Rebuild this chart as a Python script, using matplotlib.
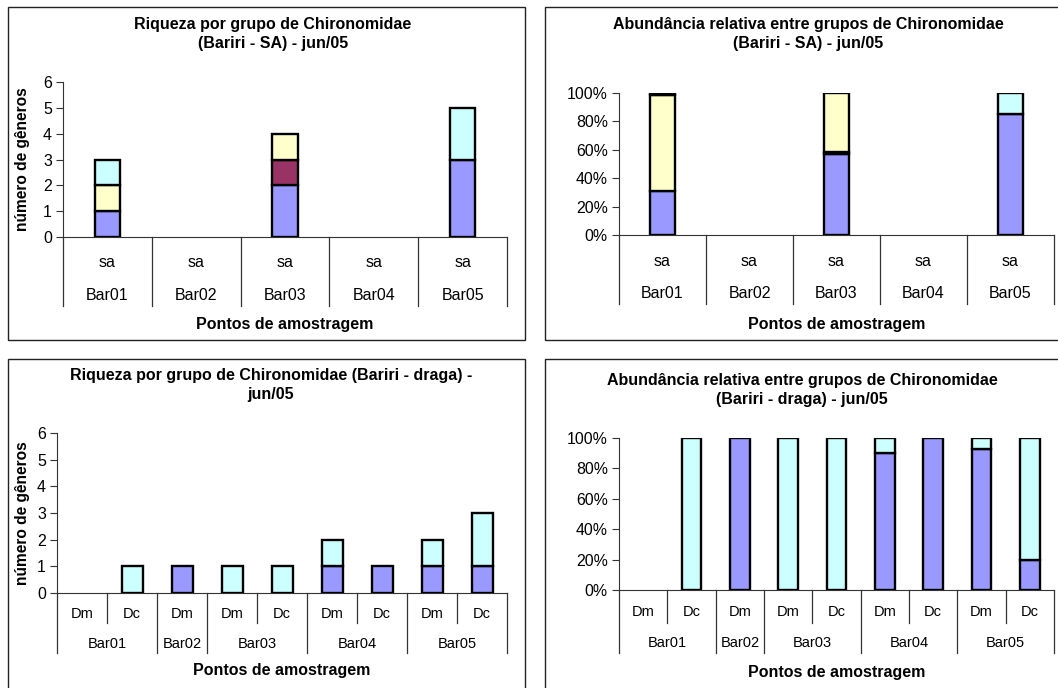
import matplotlib
matplotlib.use("Agg")
import matplotlib.pyplot as plt
import matplotlib.patches as mpatches
from matplotlib.ticker import PercentFormatter

plt.rcParams['font.family'] = ['Liberation Sans', 'DejaVu Sans']

# colours of the four Chironomidae groups (bottom to top of the stack)
group_colors = ['#9999FF', '#993366', '#FFFFCC', '#CCFFFF']

# --- SA samples (one per point) ---
sa_points = ['Bar01', 'Bar02', 'Bar03', 'Bar04', 'Bar05']
sa_sub = ['sa', 'sa', 'sa', 'sa', 'sa']
rich_sa_blue = [1, 0, 2, 0, 3]
rich_sa_maroon = [0, 0, 1, 0, 0]
rich_sa_yellow = [1, 0, 1, 0, 0]
rich_sa_cyan = [1, 0, 0, 0, 2]
abund_sa_blue = [31, 0, 57, 0, 85]
abund_sa_maroon = [0, 0, 1.5, 0, 0]
abund_sa_yellow = [67.5, 0, 41.5, 0, 0]
abund_sa_cyan = [1.5, 0, 0, 0, 15]

# --- dredge samples ---
dr_points = ['Bar01', 'Bar01', 'Bar02', 'Bar03', 'Bar03', 'Bar04', 'Bar04', 'Bar05', 'Bar05']
dr_sub = ['Dm', 'Dc', 'Dm', 'Dm', 'Dc', 'Dm', 'Dc', 'Dm', 'Dc']
rich_dr_blue = [0, 0, 1, 0, 0, 1, 1, 1, 1]
rich_dr_cyan = [0, 1, 0, 1, 1, 1, 0, 1, 2]
abund_dr_blue = [0, 0, 100, 0, 0, 90, 100, 93, 20]
abund_dr_cyan = [0, 100, 0, 100, 100, 10, 0, 7, 80]

W, H = 1058, 688
fig = plt.figure(figsize=(W / 100, H / 100), dpi=100)


def px_axes(x0, y0, x1, y1):
    return fig.add_axes([x0 / W, 1 - y1 / H, (x1 - x0) / W, (y1 - y0) / H])


def frame(x0, y0, x1, y1):
    fig.patches.append(mpatches.Rectangle((x0 / W, 1 - y1 / H), (x1 - x0) / W, (y1 - y0) / H,
                                          transform=fig.transFigure, fill=False,
                                          edgecolor='#222222', linewidth=1.0))


def panel(box, series, colors, sub, points, width, pct, title, title_xy, rows, fs_cat, fs_tick, ylabel=None, ylab_x=None):
    x0, y0, x1, y1 = box
    ax = px_axes(x0, y0, x1, y1)
    n = len(sub)
    bottom = [0] * n
    for vals, c in zip(series, colors):
        idx = [i for i in range(n) if vals[i] > 0]
        ax.bar(idx, [vals[i] for i in idx], width=width, bottom=[bottom[i] for i in idx],
               color=c, edgecolor='black', linewidth=1.7, zorder=3)
        bottom = [b + v for b, v in zip(bottom, vals)]
    ax.set_xlim(-0.5, n - 0.5)
    if pct:
        ax.set_ylim(0, 100)
        ax.set_yticks([0, 20, 40, 60, 80, 100])
        ax.yaxis.set_major_formatter(PercentFormatter(decimals=0))
    else:
        ax.set_ylim(0, 6)
        ax.set_yticks(range(7))
    ax.set_xticks([])
    for s in ['top', 'right']:
        ax.spines[s].set_visible(False)
    ax.spines['left'].set_color('#333333')
    ax.spines['bottom'].set_color('#333333')
    ax.tick_params(axis='y', direction='out', length=5, labelsize=fs_tick, color='#333333', pad=3)

    hpx = y1 - y0
    def fy(ypx):
        return (y1 - ypx) / hpx
    tr = ax.get_xaxis_transform()
    sub_y, grp_y, sub_end, grp_end, xl_y = rows
    # sub-category labels and their separators
    for i, s in enumerate(sub):
        ax.text(i, fy(sub_y), s, transform=tr, ha='center', va='center', fontsize=fs_cat)
    for k in range(n + 1):
        is_group = k == 0 or k == n or points[k] != points[k - 1]
        yend = grp_end if is_group else sub_end
        ax.plot([k - 0.5, k - 0.5], [0, fy(yend)], transform=tr, color='#333333',
                linewidth=0.9, clip_on=False)
    # group labels
    start = 0
    for k in range(1, n + 1):
        if k == n or points[k] != points[start]:
            ax.text((start + k - 1) / 2, fy(grp_y), points[start], transform=tr,
                    ha='center', va='center', fontsize=fs_cat)
            start = k
    ax.text((n - 1) / 2, fy(xl_y), 'Pontos de amostragem', transform=tr, ha='center',
            va='center', fontsize=11.5, fontweight='bold')
    fig.text(title_xy[0] / W, 1 - title_xy[1] / H, title, ha='center', va='center',
             fontsize=11.5, fontweight='bold', linespacing=1.3)
    if ylabel:
        fig.text(ylab_x / W, 1 - (y0 + y1) / 2 / H, ylabel, rotation=90, ha='center',
                 va='center', fontsize=11.2, fontweight='bold')
    return ax


frame(8, 7, 525, 340)
frame(545, 7, 1075, 340)
frame(8, 359, 525, 700)
frame(545, 359, 1075, 700)

panel((63, 82, 507, 237),
      [rich_sa_blue, rich_sa_maroon, rich_sa_yellow, rich_sa_cyan], group_colors,
      sa_sub, sa_points, 0.29, False,
      'Riqueza por grupo de Chironomidae\n(Bariri - SA) - jun/05', (273, 34),
      (262, 295, 306, 306, 324), 11.5, 11.5, 'número de gêneros', 23)

panel((619, 93, 1054, 235),
      [abund_sa_blue, abund_sa_maroon, abund_sa_yellow, abund_sa_cyan], group_colors,
      sa_sub, sa_points, 0.29, True,
      'Abundância relativa entre grupos de Chironomidae\n(Bariri - SA) - jun/05', (808, 34),
      (261, 293, 304, 304, 324), 11.5, 11.4)

panel((57, 433, 507, 593),
      [rich_dr_blue, rich_dr_cyan], [group_colors[0], group_colors[3]],
      dr_sub, dr_points, 0.42, False,
      'Riqueza por grupo de Chironomidae (Bariri - draga) -\njun/05', (271, 385),
      (614, 644, 623, 653, 671), 10.5, 11.5, 'número de gêneros', 23)

panel((619, 438, 1054, 590),
      [abund_dr_blue, abund_dr_cyan], [group_colors[0], group_colors[3]],
      dr_sub, dr_points, 0.41, True,
      'Abundância relativa entre grupos de Chironomidae\n(Bariri - draga) - jun/05', (802, 390),
      (612, 643, 623, 653, 672), 10.5, 11.4)

fig.savefig('out.png', dpi=100)
